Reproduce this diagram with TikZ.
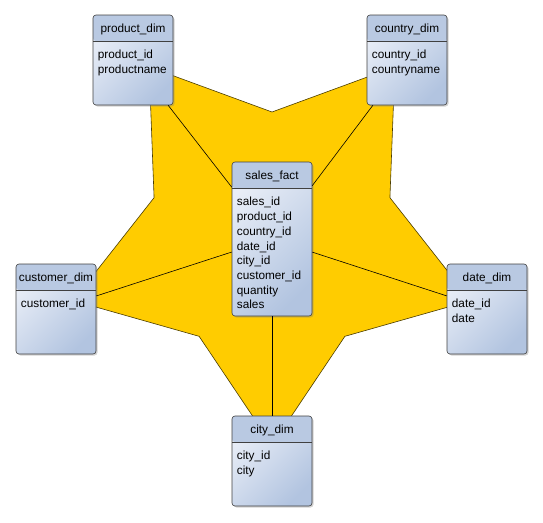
\documentclass[tikz,border=0pt]{standalone}
\usepackage{fontspec}
\setmainfont{Liberation Sans}
\usetikzlibrary{shadows}

\definecolor{headblue}{HTML}{B9C9E2}
\definecolor{bodylight}{HTML}{E9EEF7}
\definecolor{bodydark}{HTML}{B2C4E0}
\definecolor{staryellow}{HTML}{FFCC00}
\definecolor{staredge}{HTML}{4A3C00}

\begin{document}
\begin{tikzpicture}[x=1pt, y=-1pt, font=\fontsize{11.8}{14.7}\selectfont]
        \tikzstyle{table}=[draw=black!75, line width=0.6pt, rounded corners=3pt,
            minimum width=80pt, minimum height=90pt, inner sep=0pt,
            top color=bodylight, bottom color=bodydark, shading angle=45,
            drop shadow={shadow xshift=1.5pt, shadow yshift=-1.5pt, opacity=0.35},
            path picture={
                \fill[headblue] (path picture bounding box.north west)
                    rectangle ([yshift=-26pt]path picture bounding box.north east);
                \draw[black!75, line width=0.6pt]
                    ([yshift=-26pt]path picture bounding box.north west)
                    -- ([yshift=-26pt]path picture bounding box.north east);
            }]
        \tikzstyle{title}=[anchor=base, inner sep=0pt]
        \tikzstyle{attrs}=[anchor=north west, align=left, inner sep=0pt]
        \useasboundingbox (0,0) rectangle (543,522);

        % star
        \begin{scope}[shift={(272,236)}]
            \draw[fill=staryellow, draw=staredge, line width=0.6pt]
                (90:209) -- (126:124) -- (162:209) -- (198:124) -- (234:209)
                -- (270:124) -- (306:209) -- (342:124) -- (18:209) -- (54:124) -- cycle;
        \end{scope}

        % tables
        \node[table] (product) at (133,60) {};
        \node[title] (productT) at ([yshift=-18pt]product.north) {product\_dim};
        \node[attrs] (productA) at ([xshift=5pt, yshift=-35.5pt]product.north west) {product\_id\\productname};

        \node[table] (country) at (407,60) {};
        \node[title] (countryT) at ([yshift=-18pt]country.north) {country\_dim};
        \node[attrs] (countryA) at ([xshift=5pt, yshift=-35.5pt]country.north west) {country\_id\\countryname};

        \node[table, minimum height=154pt] (sales) at (272,239) {};
        \node[title] (salesT) at ([yshift=-18pt]sales.north) {sales\_fact};
        \node[attrs] (salesA) at ([xshift=5pt, yshift=-35.5pt]sales.north west)
            {sales\_id\\product\_id\\country\_id\\date\_id\\city\_id\\customer\_id\\quantity\\sales};

        \node[table] (customer) at (56,309) {};
        \node[title] (customerT) at ([yshift=-18pt]customer.north) {customer\_dim};
        \node[attrs] (customerA) at ([xshift=5pt, yshift=-35.5pt]customer.north west) {customer\_id};

        \node[table] (date) at (487,309) {};
        \node[title] (dateT) at ([yshift=-18pt]date.north) {date\_dim};
        \node[attrs] (dateA) at ([xshift=5pt, yshift=-35.5pt]date.north west) {date\_id\\date};

        \node[table] (city) at (272,461) {};
        \node[title] (cityT) at ([yshift=-18pt]city.north) {city\_dim};
        \node[attrs] (cityA) at ([xshift=5pt, yshift=-35.5pt]city.north west) {city\_id\\city};

        % links
        \draw[line width=0.6pt] (sales) -- (product);
        \draw[line width=0.6pt] (sales) -- (country);
        \draw[line width=0.6pt] (sales) -- (customer);
        \draw[line width=0.6pt] (sales) -- (date);
        \draw[line width=0.6pt] (sales) -- (city);

    \end{tikzpicture}
\end{document}
